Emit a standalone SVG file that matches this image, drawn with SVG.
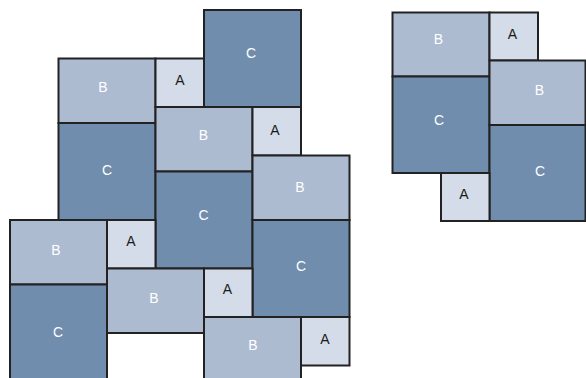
<svg xmlns="http://www.w3.org/2000/svg" width="586" height="378" viewBox="0 0 586 378">
<style>
rect{stroke:#222;stroke-width:2}
.a{fill:#d3dce8}
.b{fill:#adbbd1}
.c{fill:#718dad}
text{font-family:"Liberation Sans",Arial,sans-serif;font-size:14px;text-anchor:middle}
.ta{fill:#1a1a1a}
.tw{fill:#ffffff}
</style>
<rect width="586" height="378" fill="#ffffff" style="stroke:none"/>
<g id="left">
<g id="b1"><rect class="b" x="58.5" y="58.5" width="97" height="64.5"/><text class="tw" x="103" y="92">B</text></g>
<g id="a1"><rect class="a" x="155.5" y="58.5" width="48.5" height="48.5"/><text class="ta" x="180" y="85">A</text></g>
<g id="c1"><rect class="c" x="204" y="10" width="97" height="97"/><text class="tw" x="251" y="58">C</text></g>
<g id="c2"><rect class="c" x="58.5" y="123" width="97" height="97"/><text class="tw" x="107" y="175">C</text></g>
<g id="b2"><rect class="b" x="155.5" y="107" width="97" height="64.5"/><text class="tw" x="203.5" y="140">B</text></g>
<g id="a2"><rect class="a" x="252.5" y="107" width="48.5" height="48.5"/><text class="ta" x="275" y="135">A</text></g>
<g id="c3"><rect class="c" x="155.5" y="171.5" width="97" height="97"/><text class="tw" x="203.5" y="220">C</text></g>
<g id="b3"><rect class="b" x="252.5" y="155.5" width="97" height="64.5"/><text class="tw" x="300" y="192">B</text></g>
<g id="c4"><rect class="c" x="252.5" y="220" width="97" height="97"/><text class="tw" x="301" y="271">C</text></g>
<g id="b4"><rect class="b" x="10" y="220" width="97" height="64.5"/><text class="tw" x="56" y="255">B</text></g>
<g id="a3"><rect class="a" x="107" y="220" width="48.5" height="48.5"/><text class="ta" x="131" y="246">A</text></g>
<g id="c5"><rect class="c" x="10" y="284.5" width="97" height="97"/><text class="tw" x="58" y="337">C</text></g>
<g id="b5"><rect class="b" x="107" y="268.5" width="97" height="64.5"/><text class="tw" x="154" y="303">B</text></g>
<g id="a4"><rect class="a" x="204" y="268.5" width="48.5" height="48.5"/><text class="ta" x="227.5" y="294">A</text></g>
<g id="b6"><rect class="b" x="204" y="317" width="97" height="64.5"/><text class="tw" x="253" y="350">B</text></g>
<g id="a5"><rect class="a" x="301" y="317" width="48.5" height="48.5"/><text class="ta" x="325" y="344">A</text></g>
</g>
<g id="right">
<g id="rb1"><rect class="b" x="392.5" y="12.5" width="97" height="64"/><text class="tw" x="438.5" y="44">B</text></g>
<g id="ra1"><rect class="a" x="489.5" y="12.5" width="48.5" height="48"/><text class="ta" x="512.5" y="39">A</text></g>
<g id="rc1"><rect class="c" x="392.5" y="76.5" width="97" height="96.5"/><text class="tw" x="439" y="125">C</text></g>
<g id="rb2"><rect class="b" x="489.5" y="60.5" width="96" height="64.5"/><text class="tw" x="539.5" y="95">B</text></g>
<g id="rc2"><rect class="c" x="489.5" y="125" width="96" height="96"/><text class="tw" x="540" y="175.5">C</text></g>
<g id="ra2"><rect class="a" x="441" y="173" width="48.5" height="48"/><text class="ta" x="464" y="199">A</text></g>
</g>
<g id="connectors"/>
</svg>
